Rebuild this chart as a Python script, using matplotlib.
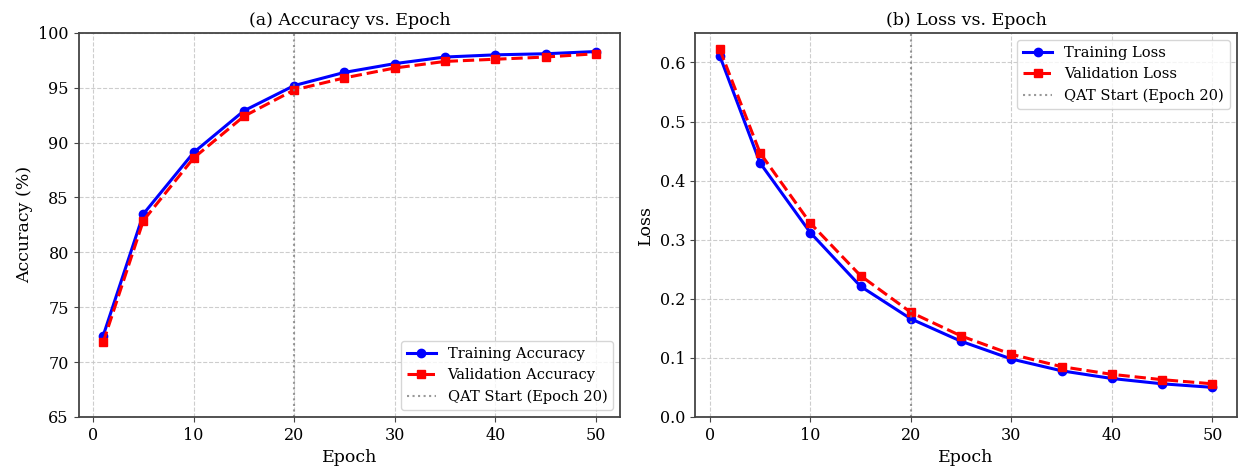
import numpy as np
import matplotlib.pyplot as plt

plt.rcParams['font.family'] = ['DejaVu Serif']

epochs = [1, 5, 10, 15, 20, 25, 30, 35, 40, 45, 50]
train_acc = [72.4, 83.5, 89.1, 92.9, 95.2, 96.4, 97.2, 97.8, 98.0, 98.1, 98.3]
val_acc = [71.8, 82.9, 88.6, 92.4, 94.8, 95.9, 96.8, 97.4, 97.6, 97.8, 98.1]
train_loss = [0.611, 0.430, 0.312, 0.221, 0.166, 0.128, 0.098, 0.078, 0.065, 0.056, 0.050]
val_loss = [0.622, 0.447, 0.328, 0.239, 0.177, 0.137, 0.106, 0.085, 0.072, 0.063, 0.056]
qat_epoch = 20


def style_axes(ax):
    ax.grid(True, linestyle='--', color='#c8c8c8', alpha=0.9, linewidth=0.8)
    for sp in ax.spines.values():
        sp.set_color('#444444')
        sp.set_linewidth(1.3)
    ax.tick_params(labelsize=11.5, color='#444444')


fig, (ax1, ax2) = plt.subplots(1, 2, figsize=(12.47, 4.7))

# (a) accuracy
ax1.plot(epochs, train_acc, 'b-', marker='o', markersize=6, linewidth=2.2, label='Training Accuracy')
ax1.plot(epochs, val_acc, 'r--', marker='s', markersize=6, linewidth=2.2, label='Validation Accuracy')
ax1.axvline(qat_epoch, color='gray', linestyle=':', linewidth=1.5, alpha=0.8, label='QAT Start (Epoch 20)')
ax1.set_ylim(65, 100)
ax1.set_xlabel('Epoch', fontsize=12.5)
ax1.set_ylabel('Accuracy (%)', fontsize=12.5)
ax1.set_title('(a) Accuracy vs. Epoch', fontsize=12.5)
ax1.legend(loc='lower right', fontsize=10.5)
style_axes(ax1)

# (b) loss
ax2.plot(epochs, train_loss, 'b-', marker='o', markersize=6, linewidth=2.2, label='Training Loss')
ax2.plot(epochs, val_loss, 'r--', marker='s', markersize=6, linewidth=2.2, label='Validation Loss')
ax2.axvline(qat_epoch, color='gray', linestyle=':', linewidth=1.5, alpha=0.8, label='QAT Start (Epoch 20)')
ax2.set_ylim(0, 0.65)
ax2.set_xlabel('Epoch', fontsize=12.5)
ax2.set_ylabel('Loss', fontsize=12.5)
ax2.set_title('(b) Loss vs. Epoch', fontsize=12.5)
ax2.legend(loc='upper right', fontsize=10.5)
style_axes(ax2)

plt.subplots_adjust(left=0.063, right=0.992, top=0.93, bottom=0.113, wspace=0.138)
plt.savefig('out.png', dpi=100)
